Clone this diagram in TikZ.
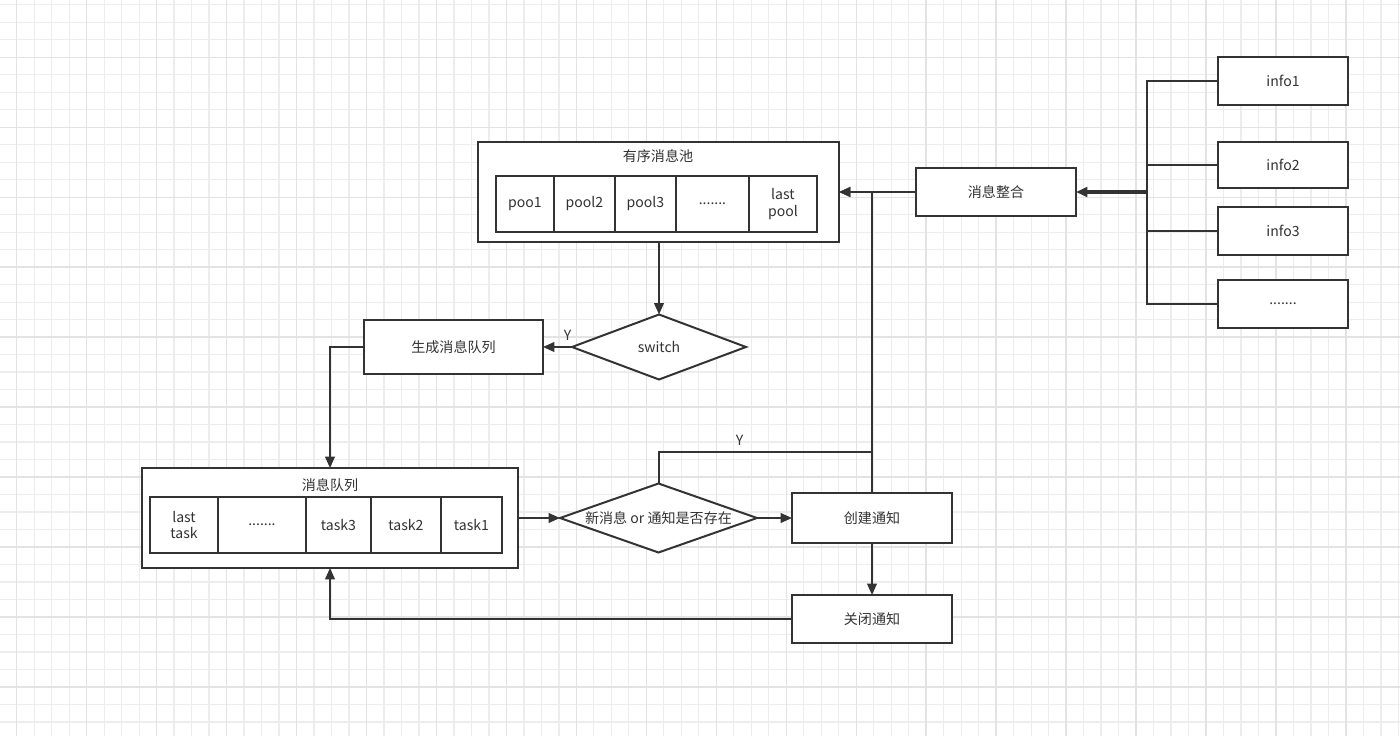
\documentclass[tikz,border=0pt]{standalone}
\usepackage{fontspec}
\setmainfont{Noto Sans CJK SC}
\usetikzlibrary{arrows.meta,positioning,shapes.geometric}

\begin{document}
\begin{tikzpicture}[
  x=0.02cm, y=-0.02cm,
  font=\fontsize{8}{9.6}\selectfont,
  box/.style={rectangle,draw=black!80,fill=white,line width=1.134pt,text=black!80,inner sep=0pt,outer sep=0pt,minimum width=3.2cm,minimum height=0.96cm},
  cell/.style={rectangle,draw=black!80,fill=white,line width=1.134pt,text=black!80,inner sep=0pt,outer sep=0pt,minimum height=1.12cm,align=center},
  frame/.style={rectangle,draw=black!80,fill=white,line width=1.134pt,inner sep=0pt,outer sep=0pt,minimum height=2cm},
  decision/.style={diamond,draw=black!80,fill=white,line width=1.134pt,text=black!80,inner sep=0pt,outer sep=0pt},
  link/.style={draw=black!80,line width=1.134pt},
  gridminor/.style={draw=black!7,line width=0.7pt},
  gridmajor/.style={draw=black!11,line width=0.8pt},
  >={Triangle[length=6.5pt,width=5.5pt]}
]
  % Canvas
  \fill[white] (0,0) rectangle (1400,736);
  \useasboundingbox (0,0) rectangle (1400,736);
  \foreach \i in {0,...,79}
    \draw[gridminor] ({16.7+17.49*\i},0) -- ({16.7+17.49*\i},736);
  \foreach \j in {0,...,41}
    \draw[gridminor] (0,{4.8+17.49*\j}) -- (1400,{4.8+17.49*\j});
  \foreach \i in {0,...,19}
    \draw[gridmajor] ({16.7+69.96*\i},0) -- ({16.7+69.96*\i},736);
  \foreach \j in {0,...,9}
    \draw[gridmajor] (0,{57.3+69.96*\j}) -- (1400,{57.3+69.96*\j});

  % Ordered message pool
  \node[frame,minimum width=7.22cm] (pool) at (658.5,192) {};
  \node[text=black!80] (pooltitle) at (658,156) {有序消息池};
  \node[cell,anchor=west,minimum width=1.16cm] (p1) at (496,204) {poo1};
  \node[cell,minimum width=1.22cm,right=0pt of p1] (p2) {pool2};
  \node[cell,minimum width=1.22cm,right=0pt of p2] (p3) {pool3};
  \node[cell,minimum width=1.46cm,right=0pt of p3] (pdots) {.......};
  \node[cell,minimum width=1.36cm,right=0pt of pdots] (plast) {last\\pool};

  % Message queue
  \node[frame,minimum width=7.52cm] (queue) at (330,518) {};
  \node[text=black!80] (queuetitle) at (330,485) {消息队列};
  \node[cell,anchor=west,minimum width=1.36cm] (tlast) at (150,525) {last\\task};
  \node[cell,minimum width=1.76cm,right=0pt of tlast] (tdots) {.......};
  \node[cell,minimum width=1.30cm,right=0pt of tdots] (t3) {task3};
  \node[cell,minimum width=1.40cm,right=0pt of t3] (t2) {task2};
  \node[cell,minimum width=1.22cm,right=0pt of t2] (t1) {task1};

  % Inputs
  \node[box,minimum width=2.6cm] (info1) at (1283,81) {info1};
  \node[box,minimum width=2.6cm,minimum height=0.92cm] (info2) at (1283,165) {info2};
  \node[box,minimum width=2.6cm] (info3) at (1283,231) {info3};
  \node[box,minimum width=2.6cm] (info4) at (1283,304) {.......};
  \node[box] (merge) at (996,192) {消息整合};

  % Steps
  \node[decision,minimum width=3.48cm,minimum height=1.3cm,aspect=2.68] (switch) at (659,347) {switch};
  \node[box,minimum width=3.58cm,minimum height=1.08cm] (gen) at (453.5,347) {生成消息队列};
  \node[decision,minimum width=3.94cm,minimum height=1.38cm,aspect=2.86] (check) at (658.5,518) {新消息 or 通知是否存在};
  \node[box,minimum height=1cm] (create) at (872,518) {创建通知};
  \node[box] (close) at (872,619) {关闭通知};

  % Arrows
  \coordinate (bus) at (1147,192);
  \coordinate (join) at (872,452);
  \foreach \n in {info1,info2,info3,info4}
    \draw[link] (\n.west) -| (bus);
  \draw[link,->,line width=2.2pt] (bus) -- (merge.east);
  \draw[link,->] (merge.west) -- (pool.east);
  \draw[link,->] (pool.south -| switch.north) -- (switch.north);
  \draw[link,->] (switch.west) -- node[above,pos=0.15,text=black!80] {Y} (gen.east);
  \draw[link,->] (gen.west) -| (queue.north);
  \draw[link,->] (queue.east) -- (check.west);
  \draw[link,->] (check.east) -- (create.west);
  \draw[link,->] (create.south) -- (close.north);
  \draw[link,->] (close.west) -| (queue.south);
  \draw[link,->] (create.north) |- (pool.east);
  \draw[link] (check.north) |- node[above,pos=0.69,text=black!80] {Y} (join);
\end{tikzpicture}
\end{document}
